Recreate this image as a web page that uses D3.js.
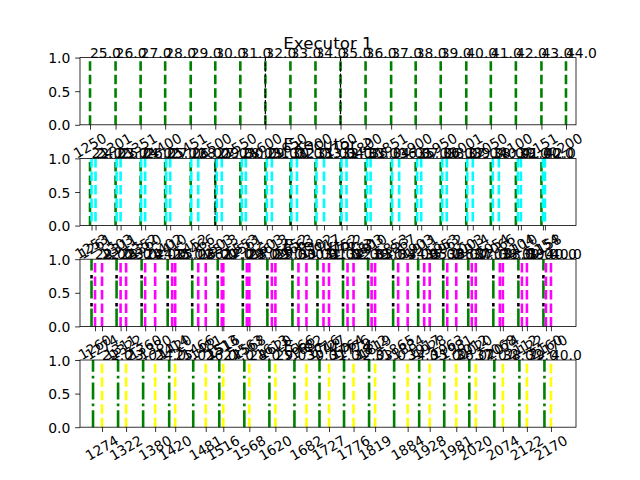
<!DOCTYPE html>
<html><head><meta charset="utf-8">
<script src="https://cdn.jsdelivr.net/npm/d3@7"></script>
<style>body{margin:0;background:#fff} svg{display:block} text{font-family:"DejaVu Sans",sans-serif}</style>
</head><body><svg id="c" width="640" height="480"></svg>
<script>
// ---------- data ----------
const titles = ["Executor 1", "Executor 2", "Executor 3", "Executor 4"];
const yTicks = [0, 0.5, 1];
const xDomain = [1230, 2220];

const exec1Starts = [1250,1301,1351,1400,1451,1500,1550,1600,1650,1700,1750,1800,1851,1900,1950,2001,2050,2100,2151,2200];
const exec1Labels = ["25.0","26.0","27.0","28.0","29.0","30.0","31.0","32.0","33.0","34.0","35.0","36.0","37.0","38.0","39.0","40.0","41.0","42.0","43.0","44.0"];
const exec1Marks = [1600, 1750];

const exec2Base = [1250,1301,1351,1400,1451,1500,1550,1600,1650,1700,1750,1800,1851,1900,1950,2001,2050,2100,2151];
const exec2Starts = [1253,1303,1352,1402,1452,1503,1553,1603,1652,1702,1752,1803,1853,1903,1953,2003,2054,2104,2154];
const exec2Ends = [1261,1311,1360,1410,1466,1513,1561,1613,1663,1717,1762,1810,1867,1911,1962,2014,2066,2110,2158];
const exec2StartLabels = ["22.0","23.0","24.0","25.0","26.0","27.0","28.0","29.0","30.0","31.0","32.0","33.0","34.0","35.0","36.0","37.0","38.0","39.0","40.0"];
const exec2EndLabels = ["24.0","25.0","26.0","27.0","28.0","29.0","30.0","31.0","32.0","33.0","34.0","35.0","36.0","37.0","38.0","39.0","40.0","41.0","42.0"];
const exec2Marks = [1500, 1651, 1751];

const exec3Starts = [1253,1303,1353,1405,1454,1505,1555,1604,1654,1704,1755,1805,1855,1905,1955,2005,2055,2105,2155];
const exec3Mids = [1260,1311,1360,1414,1466,1513,1563,1613,1666,1716,1764,1812,1865,1917,1963,2012,2068,2112,2160];
const exec3Ends = [1274,1322,1380,1420,1481,1516,1568,1620,1682,1727,1776,1819,1884,1928,1981,2020,2074,2122,2170];
const exec3MidLabels = ["22.0","23.0","24.0","25.0","26.0","27.0","28.0","29.0","30.0","31.0","32.0","33.0","34.0","35.0","36.0","37.0","38.0","39.0","40.0"];
const exec3EndLabels = ["22.0","23.0","24.0","25.0","26.0","27.0","28.0","29.0","30.0","31.0","32.0","33.0","34.0","35.0","36.0","37.0","38.0","39.0","40.0"];

const exec4Starts = [1256,1306,1356,1408,1456,1508,1558,1608,1658,1708,1757,1807,1857,1907,1957,2007,2057,2107,2157];
const exec4Ends = [1274,1322,1380,1420,1481,1516,1568,1620,1682,1727,1776,1819,1884,1928,1981,2020,2074,2122,2170];
const exec4Labels = ["22.0","23.0","24.0","25.0","26.0","27.0","28.0","29.0","30.0","31.0","32.0","33.0","34.0","35.0","36.0","37.0","38.0","39.0","40.0"];

// ---------- layout ----------
const svg = d3.select("#c");
const L = 80, R = 576, PH = 67.2;
const tops = [57.6, 158.4, 259.2, 360];
const FS = 13.9, TFS = 16.67;
const x = d3.scaleLinear().domain(xDomain).range([L, R]);

const DASH = "9.5,4";
const panels = [
  { lines: [
      {xs: exec1Starts, color: "#008000", w: 2.6, dash: DASH},
      {xs: exec1Marks, color: "#000000", w: 1.2, dash: "3.7,1.6"}],
    texts: [{xs: exec1Starts, labels: exec1Labels}],
    ticks: exec1Starts },
  { lines: [
      {xs: exec2Base, color: "#008000", w: 2.6, dash: DASH},
      {xs: exec2Marks, color: "#000000", w: 1.2, dash: "3.7,1.6"},
      {xs: exec2Starts, color: "#00ffff", w: 2.6, dash: "9.5,4", off: -4},
      {xs: exec2Ends, color: "#00ffff", w: 2.6, dash: "9.5,4", off: -4}],
    texts: [{xs: exec2Starts, labels: exec2StartLabels}, {xs: exec2Ends, labels: exec2EndLabels}],
    ticks: exec2Starts.concat(exec2Ends) },
  { lines: [
      {xs: exec3Starts, color: "#000000", w: 2.6, dash: "3.5,24.5", off: -20},
      {xs: exec3Starts, color: "#008000", w: 2.6, dash: "18,10"},
      {xs: exec3Mids, color: "#ff00ff", w: 2.6, dash: DASH},
      {xs: exec3Ends, color: "#ff00ff", w: 2.6, dash: DASH}],
    texts: [{xs: exec3Mids, labels: exec3MidLabels}, {xs: exec3Ends, labels: exec3EndLabels}],
    ticks: exec3Mids.concat(exec3Ends) },
  { lines: [
      {xs: exec4Starts, color: "#008000", w: 2.6, dash: "17,4,2.7,4"},
      {xs: exec4Ends, color: "#ffff00", w: 2.6, dash: DASH}],
    texts: [{xs: exec4Ends, labels: exec4Labels}],
    ticks: exec4Ends }
];

panels.forEach((p, i) => {
  const top = tops[i], bot = top + PH;
  const y = d3.scaleLinear().domain([0, 1]).range([bot, top]);
  const g = svg.append("g");
  p.lines.forEach(ln => {
    g.selectAll(null).data(ln.xs).enter().append("line")
      .attr("x1", d => x(d)).attr("x2", d => x(d))
      .attr("y1", y(0)).attr("y2", y(1))
      .attr("stroke", ln.color).attr("stroke-width", ln.w)
      .attr("stroke-dasharray", ln.dash)
      .attr("stroke-dashoffset", ln.off || 0);
  });
  g.append("rect").attr("x", L).attr("y", top).attr("width", R - L).attr("height", PH)
    .attr("fill", "none").attr("stroke", "#000").attr("stroke-width", 0.8);
  const ya = d3.axisLeft(y).tickValues(yTicks).tickFormat(d3.format(".1f")).tickSize(4.86).tickPadding(4.86);
  const yg = g.append("g").attr("transform", `translate(${L},0)`).call(ya);
  yg.select(".domain").remove();
  yg.selectAll(".tick line").attr("stroke-width", 0.8);
  yg.selectAll("text").attr("font-size", FS).attr("font-family", "DejaVu Sans").attr("fill", "#000").attr("dy", "0.36em");
  const xa = d3.axisBottom(x).tickValues(p.ticks).tickFormat(d3.format("d")).tickSize(4.86).tickPadding(0);
  const xg = g.append("g").attr("transform", `translate(0,${bot})`).call(xa);
  xg.select(".domain").remove();
  xg.selectAll(".tick line").attr("stroke-width", 0.8);
  xg.selectAll(".tick text").each(function() {
    const t = d3.select(this);
    t.attr("font-size", FS).attr("font-family", "DejaVu Sans").attr("fill", "#000")
     .attr("text-anchor", "middle").attr("dy", null);
    const w = this.getComputedTextLength();
    const h = 13.8;
    const H = w * 0.5 + h * 0.866;
    const cy = 7 + H / 2;
    t.attr("y", 0).attr("transform", `translate(0,${cy}) rotate(-30) translate(0,3.7)`);
  });
  p.texts.forEach(tx => {
    g.selectAll(null).data(tx.xs).enter().append("text")
      .attr("x", d => x(d)).attr("y", y(1))
      .attr("font-size", FS).attr("fill", "#000")
      .text((d, k) => tx.labels[k]);
  });
  g.append("text").attr("x", (L + R) / 2).attr("y", top - 8.33)
    .attr("text-anchor", "middle").attr("font-size", TFS).attr("fill", "#000")
    .text(titles[i]);
});
</script></body></html>
